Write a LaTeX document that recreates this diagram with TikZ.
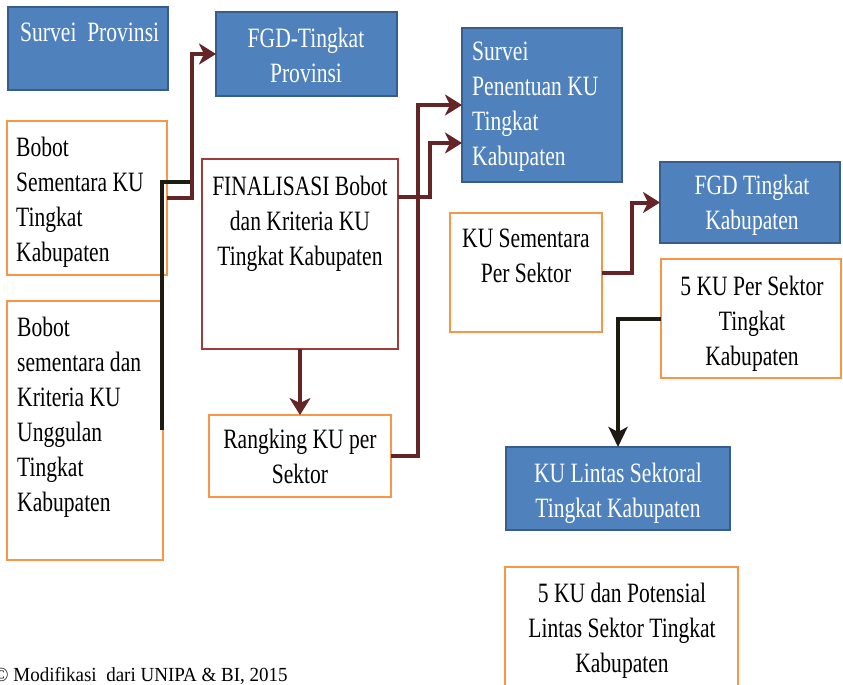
\documentclass[tikz,border=0pt]{standalone}
\usepackage{fontspec}
\setmainfont{Liberation Serif}[FakeStretch=0.77]
\newfontfamily\notefont{Liberation Serif}[FakeStretch=0.95]
\usetikzlibrary{arrows.meta}
\definecolor{boxblue}{HTML}{4F81BD}
\definecolor{blueedge}{HTML}{385D8A}
\definecolor{boxorange}{HTML}{F79646}
\definecolor{boxred}{HTML}{9C3D3B}
\definecolor{connred}{HTML}{652426}
\definecolor{connblack}{HTML}{1E1C12}
\begin{document}
\begin{tikzpicture}[x=1pt,y=-1pt,
  basebox/.style={rectangle, inner sep=0pt, outer sep=0pt, anchor=north west},
  bluebox/.style={basebox, draw=blueedge, fill=boxblue, line width=2pt},
  orangebox/.style={basebox, draw=boxorange, fill=white, line width=2.5pt},
  redbox/.style={basebox, draw=boxred, fill=white, line width=2.5pt},
  txt/.style={inner sep=0pt, font=\fontsize{28}{35}\selectfont, text=black},
  wtxt/.style={txt, text=white},
  redconn/.style={draw=connred, line width=4pt, -{Stealth[length=17pt,width=21pt,inset=5pt]}},
  blackconn/.style={draw=connblack, line width=4pt},
  blackarrow/.style={blackconn, -{Stealth[length=20pt,width=19pt,inset=5pt]}}
]
\useasboundingbox (0,0) rectangle (843,685);

% boxes
\node[bluebox, minimum width=160pt, minimum height=83pt] (b1) at (8,7) {};
\node[bluebox, minimum width=181pt, minimum height=84pt] (b2) at (216,12) {};
\node[orangebox, minimum width=160pt, minimum height=154pt] (b3) at (7,121) {};
\node[orangebox, minimum width=156pt, minimum height=259pt] (b4) at (7,301) {};
\node[redbox, minimum width=196pt, minimum height=190pt] (b5) at (202,159) {};
\node[orangebox, minimum width=182pt, minimum height=82pt] (b6) at (209,415) {};
\node[bluebox, minimum width=160pt, minimum height=154pt] (b7) at (462,28) {};
\node[orangebox, minimum width=152pt, minimum height=119pt] (b8) at (450,213) {};
\node[bluebox, minimum width=180pt, minimum height=81pt] (b9) at (660,162) {};
\node[orangebox, minimum width=180pt, minimum height=119pt] (b10) at (661,259) {};
\node[bluebox, minimum width=224pt, minimum height=83pt] (b11) at (506,447) {};
\node[orangebox, minimum width=233pt, minimum height=140pt] (b12) at (505,567) {};

% texts
\node[wtxt, anchor=north west] (t1) at (20,23) {Survei\ \ Provinsi};
\node[wtxt, anchor=north, align=center] (t2) at (306,28) {FGD-Tingkat\\Provinsi};
\node[txt, anchor=north west, align=left] (t3) at (16,137) {Bobot\\Sementara KU\\Tingkat\\Kabupaten};
\node[txt, anchor=north west, align=left] (t4) at (17,317) {Bobot\\sementara dan\\Kriteria KU\\Unggulan\\Tingkat\\Kabupaten};
\node[txt, anchor=north, align=center] (t5) at (300,176) {FINALISASI Bobot\\dan Kriteria KU\\Tingkat Kabupaten};
\node[txt, anchor=north, align=center] (t6) at (300,429) {Rangking KU per\\Sektor};
\node[wtxt, anchor=north west, align=left] (t7) at (472,42) {Survei\\Penentuan KU\\Tingkat\\Kabupaten};
\node[txt, anchor=north, align=center] (t8) at (526,229) {KU Sementara\\Per Sektor};
\node[wtxt, anchor=north, align=center] (t9) at (752,175) {FGD Tingkat\\Kabupaten};
\node[txt, anchor=north, align=center] (t10) at (752,276) {5 KU Per Sektor\\Tingkat\\Kabupaten};
\node[wtxt, anchor=north, align=center] (t11) at (618,463) {KU Lintas Sektoral\\Tingkat Kabupaten};
\node[txt, anchor=north, align=center] (t12) at (622,583) {5 KU dan Potensial\\Lintas Sektor Tingkat\\Kabupaten};
\node[inner sep=0pt, anchor=base west, font=\notefont\fontsize{20}{24}\selectfont] (t13) at (-6,681) {© Modifikasi\ \ dari UNIPA \& BI, 2015};

% connectors
\coordinate (j1) at (193,182);
\coordinate (j2) at (162,430);
\draw[blackconn] (j1) -| (j2);
\draw[redconn] (b3.east) -- ++(25,0) |- (b2.west);
\draw[redconn] ([yshift=-38pt]b5.north east) -- ++(32,0) |- ([yshift=-38pt]b7.west);
\draw[redconn] (b6.east) -- ++(27,0) |- (b7.west);
\draw[redconn] (b5.south) -- (b6.north);
\draw[redconn] (b8.east) -- ++(30,0) |- (b9.west);
\draw[blackarrow] (b10.west) -| (b11.north);
\end{tikzpicture}
\end{document}
